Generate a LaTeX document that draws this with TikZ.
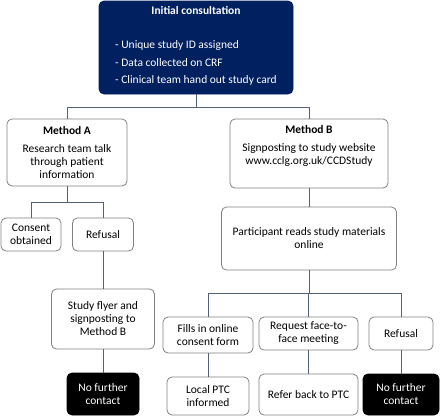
\documentclass[tikz,border=0pt]{standalone}
\usepackage{fontspec}
\setmainfont{Carlito}
\usepackage{tikz}
\usetikzlibrary{positioning}
\definecolor{navy}{RGB}{0,32,96}
\definecolor{boxgrey}{RGB}{128,128,128}
\definecolor{linkgrey}{RGB}{84,98,120}

\begin{document}
\begin{tikzpicture}[x=1pt, y=-1pt, font=\fontsize{11.5}{13}\selectfont,
    box/.style={draw=boxgrey, line width=0.8pt, rounded corners=5pt, align=center, inner sep=2pt},
    darkbox/.style={box, draw=navy, fill=navy, text=white},
    endbox/.style={box, draw=black, fill=black, text=white},
    link/.style={draw=linkgrey, line width=0.9pt}]
    \useasboundingbox (0,0) rectangle (440,416);
    \node[darkbox, minimum width=194pt, minimum height=93pt] (init) at (196,47.5)
        {\textbf{Initial consultation}\\[21pt]
         {\renewcommand\arraystretch{1.35}\begin{tabular}{@{}l@{}}- Unique study ID assigned\\- Data collected on CRF\\- Clinical team hand out study card\end{tabular}}};
    \node[box, minimum width=120pt, minimum height=67pt] (methA) at (67,152.5)
        {\textbf{Method A}\\[5pt]Research team talk\\through patient\\information};
    \node[box, minimum width=158pt, minimum height=69pt] (methB) at (309,153.5)
        {\textbf{Method B}\\[5pt]Signposting to study website\\www.cclg.org.uk/CCDStudy\\\strut};
    \node[box, minimum width=60pt, minimum height=33pt] (consA) at (31,234.5) {Consent\\obtained};
    \node[box, minimum width=61pt, minimum height=33pt] (refA) at (103,234.5) {Refusal};
    \node[box, minimum width=103pt, minimum height=60pt] (flyer) at (103,319) {Study flyer and\\signposting to\\Method B};
    \node[endbox, minimum width=72pt, minimum height=42pt] (stopA) at (103,394) {No further\\contact};
    \node[box, minimum width=175pt, minimum height=63pt] (reads) at (309,238.5) {Participant reads study materials\\online};
    \node[box, minimum width=90pt, minimum height=36pt] (fills) at (208,335) {Fills in online\\consent form};
    \node[box, minimum width=99pt, minimum height=33pt] (meet) at (308.5,333.5) {Request face-to-\\face meeting};
    \node[box, minimum width=64pt, minimum height=33pt] (refB) at (401,333.5) {Refusal};
    \node[box, minimum width=82pt, minimum height=38pt] (ptc) at (208,396) {Local PTC\\informed};
    \node[box, minimum width=99pt, minimum height=41pt] (back) at (308.5,394.5) {Refer back to PTC};
    \node[endbox, minimum width=76pt, minimum height=41pt] (stopB) at (401,394.5) {No further\\contact};
    % connectors
    \draw[link] (init.south) -- ++(0,13) -| (methA.north);
    \draw[link] (init.south) -- ++(0,13) -| (methB.north);
    \draw[link] (methA.south) -- ++(0,16) -| (consA.north);
    \draw[link] (methA.south) -- ++(0,16) -| (refA.north);
    \draw[link] (refA) -- (flyer);
    \draw[link] (flyer) -- (stopA);
    \draw[link] (methB.south) -- (methB.south |- reads.north);
    \draw[link] (reads.south) -- ++(0,23) -| (fills.north);
    \draw[link] (reads.south) -- ++(0,23) -| (meet.north);
    \draw[link] (reads.south) -- ++(0,23) -| (refB.north);
    \draw[link] (fills) -- (ptc);
    \draw[link] (meet) -- (back);
    \draw[link] (refB) -- (stopB);
\end{tikzpicture}
\end{document}
